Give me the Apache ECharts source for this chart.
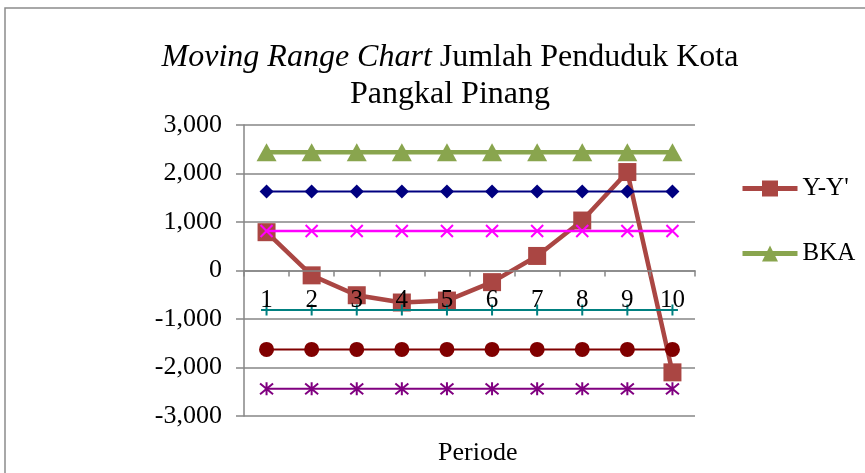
<!DOCTYPE html>
<html>
<head>
<meta charset="utf-8">
<script src="https://cdn.jsdelivr.net/npm/echarts@6/dist/echarts.min.js"></script>
<style>
  html, body { margin: 0; padding: 0; background: #fff; }
  #chart { width: 865px; height: 473px; }
</style>
</head>
<body>
<div id="chart"></div>
<script>
// periods on the x axis
const periods = ['1', '2', '3', '4', '5', '6', '7', '8', '9', '10'];
// moving range differences
const yy = [790, -100, -510, -660, -620, -240, 300, 1030, 2030, -2100];
// control limits
const bka = [2440, 2440, 2440, 2440, 2440, 2440, 2440, 2440, 2440, 2440];
const bka2 = [1627, 1627, 1627, 1627, 1627, 1627, 1627, 1627, 1627, 1627];
const bka1 = [813, 813, 813, 813, 813, 813, 813, 813, 813, 813];
const bkb1 = [-813, -813, -813, -813, -813, -813, -813, -813, -813, -813];
const bkb2 = [-1627, -1627, -1627, -1627, -1627, -1627, -1627, -1627, -1627, -1627];
const bkb = [-2440, -2440, -2440, -2440, -2440, -2440, -2440, -2440, -2440, -2440];

const FONT = '"Liberation Serif", "Times New Roman", serif';
const GRID = '#868686';

const crossPath = 'path://M0,0L10,10M10,0L0,10';
const plusPath = 'path://M5,0L5,10M0,5L10,5';
const starPath = 'path://M0,0L10,10M10,0L0,10M5,-1L5,11';

function flatLine(name, data, color, width, symbol, size, stroke) {
  return {
    name: name,
    type: 'line',
    data: data,
    symbol: symbol,
    symbolSize: size,
    lineStyle: { color: color, width: width },
    itemStyle: stroke
      ? { color: 'none', borderColor: color, borderWidth: 2 }
      : { color: color },
    z: 3
  };
}

const chart = echarts.init(document.getElementById('chart'));
chart.setOption({
  animation: false,
  textStyle: { fontFamily: FONT },
  title: {
    text: '{i|Moving Range Chart} Jumlah Penduduk Kota\nPangkal Pinang',
    left: 445,
    top: 34,
    textAlign: 'center',
    textStyle: {
      fontFamily: FONT,
      fontSize: 32,
      fontWeight: 'normal',
      color: '#000',
      lineHeight: 37,
      rich: {
        i: { fontFamily: FONT, fontSize: 32, fontStyle: 'italic', color: '#000', lineHeight: 37 }
      }
    }
  },
  legend: {
    data: [
      { name: "Y-Y'", lineStyle: { width: 5 } },
      { name: 'BKA', lineStyle: { width: 5 } }
    ],
    orient: 'vertical',
    left: 735,
    top: 171,
    itemWidth: 55,
    itemHeight: 20,
    itemGap: 40,
    textStyle: { fontFamily: FONT, fontSize: 25, color: '#000', lineHeight: 24 }
  },
  graphic: [
    {
      type: 'rect',
      shape: { x: 5, y: 8, width: 900, height: 520 },
      style: { fill: 'none', stroke: '#8c8c8c', lineWidth: 1.5 },
      silent: true
    },
    {
      type: 'text',
      left: 438,
      top: 440,
      style: { text: 'Periode', font: '26px ' + FONT, fill: '#000' }
    }
  ],
  grid: { left: 244, right: 170, top: 125, bottom: 57 },
  xAxis: {
    type: 'category',
    data: periods,
    boundaryGap: true,
    offset: -145.5,
    z: 5,
    axisLine: { onZero: false, lineStyle: { color: GRID, width: 1.5 } },
    axisTick: { show: true, length: 6, lineStyle: { color: GRID, width: 1.5 } },
    axisLabel: { color: '#000', fontSize: 25, fontFamily: FONT, margin: 17 }
  },
  yAxis: {
    type: 'value',
    min: -3000,
    max: 3000,
    interval: 1000,
    axisLine: { show: true, lineStyle: { color: GRID, width: 1.5 } },
    axisTick: { show: true, length: 8, lineStyle: { color: GRID, width: 1.5 } },
    splitLine: { lineStyle: { color: GRID, width: 1.5 } },
    axisLabel: {
      color: '#000',
      fontSize: 26,
      fontFamily: FONT,
      margin: 22,
      formatter: function (v) { return v.toLocaleString('en-US'); }
    }
  },
  series: [
    {
      name: "Y-Y'",
      type: 'line',
      data: yy,
      symbol: 'rect',
      symbolSize: 18,
      lineStyle: { color: '#AA4643', width: 4.5 },
      itemStyle: { color: '#AA4643' },
      z: 2
    },
    {
      name: 'BKA',
      type: 'line',
      data: bka,
      symbol: 'triangle',
      symbolSize: [20, 18],
      lineStyle: { color: '#89A54E', width: 4.5 },
      itemStyle: { color: '#89A54E' },
      z: 3
    },
    flatLine('BKA 2', bka2, '#000080', 2, 'diamond', [14, 14], false),
    flatLine('BKA 1', bka1, '#FF00FF', 2.5, crossPath, [12, 12], true),
    flatLine('BKB 1', bkb1, '#008080', 2, plusPath, [11, 11], true),
    flatLine('BKB 2', bkb2, '#800000', 2, 'circle', 15, false),
    flatLine('BKB', bkb, '#800080', 2, starPath, [13, 13], true)
  ]
});
</script>
</body>
</html>
